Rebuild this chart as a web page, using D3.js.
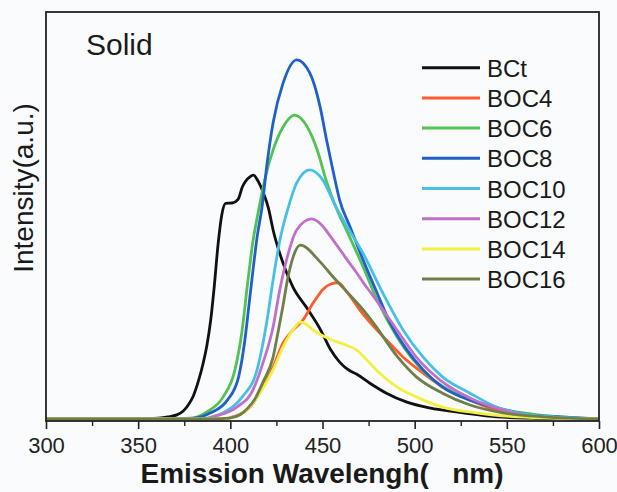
<!DOCTYPE html>
<html>
<head>
<meta charset="utf-8">
<script src="https://cdn.jsdelivr.net/npm/d3@7"></script>
<style>
  body { margin: 0; background: #fafbfd; }
  svg { display: block; font-family: "Liberation Sans", Arial, sans-serif; }
</style>
</head>
<body>
<svg id="chart" width="617" height="492"></svg>
<script>
// emission spectra, [wavelength nm, intensity a.u.]
const BCt = [[300,0.5],[351,0.5],[361,0.7],[366,1],[371,1.5],[374.3,2.4],[377,3.8],[379.8,6],[382.5,9.5],[385.2,14],[387.3,18.5],[389.3,24.5],[391.3,33],[393.3,43],[395.4,50.5],[397.4,53.2],[401,53.3],[404.2,54.2],[406.5,57.2],[410.6,59.7],[412.6,60.1],[414.7,58.9],[417.7,56],[420.7,52],[423.2,46.7],[428.6,38.6],[433.9,32.8],[441.6,27.6],[448.6,22.6],[454.2,17.6],[459.3,14.4],[464.4,12.4],[468.4,11.5],[475.5,9.3],[484.7,6.8],[495.8,4.6],[508,3.2],[526.3,2],[544.5,1],[562.8,0.7],[600,0.5]]
const BOC4 = [[300,0.5],[396.4,0.5],[401.5,1],[410.6,3.4],[417.7,8.3],[423.2,13.2],[428.6,19.1],[433.9,22.2],[439.4,24.7],[445,28.9],[450.5,32.3],[454.5,33.5],[458.5,33.8],[463.3,31.5],[470.5,27],[477.6,23.2],[484.7,19.8],[493.8,15.6],[504.6,11.7],[515.1,8.3],[530,5.1],[547.8,2.2],[566,1],[600,0.5]]
const BOC6 = [[300,0.5],[376.1,0.5],[387.3,2.2],[396.1,5.9],[402.5,12.5],[406.4,22.2],[409.2,33],[412.3,44],[415.1,51],[418.7,59],[423.2,66.3],[428.6,71.9],[434.9,74.8],[441.6,72],[447.1,66.3],[452.2,58.5],[457.9,51.6],[463.4,46.3],[472,37.7],[479.6,29.6],[490.5,20.5],[508,10.8],[526.3,5.9],[544.5,3.2],[563.8,1.7],[600,0.5]]
const BOC8 = [[300,0.5],[371,0.6],[379.8,0.7],[389.3,2],[398.4,5.1],[404.5,10.8],[407.9,19.8],[410.6,30.3],[414.7,45.5],[417.2,52.3],[419.7,62.1],[423.2,72.9],[428.6,82.6],[436,88.3],[443.1,85.1],[448.7,76.8],[452.2,68.7],[455.8,61],[459.3,54],[465,47.4],[472,39.4],[479.6,31.3],[486.7,24],[495.8,17.4],[504.6,12.5],[515.1,8.3],[530,5.1],[544.5,3.2],[562.8,1.5],[579,1],[600,0.5]]
const BOC10 = [[300,0.5],[383.2,0.5],[396.1,2],[406.5,5.9],[414.5,12.5],[419.7,24],[423.2,34.5],[426.8,44],[431.5,52.3],[436,58.2],[443.1,61.4],[450.2,58.9],[456.8,52.8],[463.4,47.5],[472,41],[482.7,31.3],[493.8,22.2],[504.6,15.6],[515.1,10.8],[530,6.8],[544.5,3.4],[562.8,1.5],[600,0.5]]
const BOC12 = [[300,0.5],[386.2,0.5],[390.3,1],[403.5,3.4],[412.3,7.6],[417.7,14.2],[423.2,23],[426.8,32],[430.9,40.1],[436,46.7],[444.1,49.4],[450.2,47.6],[454.2,45.2],[459.3,42],[463.4,39.4],[468.4,36.3],[472.5,33.6],[477.6,30.5],[482.6,27.3],[490.5,22.2],[500.9,15.6],[513.8,10],[530,5.6],[547.6,2.7],[565.8,1],[600,0.5]]
const BOC14 = [[300,0.5],[396.4,0.5],[399.4,0.7],[409,2.7],[416,6.8],[423.2,12.5],[428.6,18.1],[433.9,22.2],[438,24.2],[447.2,21.5],[454.2,20],[461.3,18.8],[468.4,17.4],[474.1,14.9],[481.2,11.6],[490.5,8.3],[500.9,5.9],[515.1,3.4],[533.4,2],[555.7,1],[600,0.5]]
const BOC16 = [[300,0.5],[391.3,0.5],[399.4,0.7],[405.5,1.6],[409.6,3.2],[413.6,5.6],[417.7,9.5],[423.2,15.6],[425.8,21.5],[428.5,28],[431,34.5],[434,40],[438,43],[448.7,38.9],[455.8,35.2],[463.4,31.5],[470.5,28],[477.6,24],[490.5,15.8],[500.9,10.8],[515.1,6.8],[530,3.9],[547.8,2],[569.9,1],[600,0.5]]

const names = ["BCt", "BOC4", "BOC6", "BOC8", "BOC10", "BOC12", "BOC14", "BOC16"]
const spectra = [BCt, BOC4, BOC6, BOC8, BOC10, BOC12, BOC14, BOC16]
const colors = ["#111111", "#ff5b30", "#52c252", "#2060c8", "#48c0e6", "#c070c8", "#f2f040", "#6e8048"]
const majorTicks = [300, 350, 400, 450, 500, 550, 600]
const minorTicks = [325, 375, 425, 475, 525, 575]

const svg = d3.select("#chart")
const plotL = 46, plotR = 599, plotT = 12, plotB = 421

const x = d3.scaleLinear().domain([300, 600]).range([plotL, plotR])
const y = d3.scaleLinear().domain([0, 100]).range([plotB, plotT])

const line = d3.line()
    .x(d => x(d[0]))
    .y(d => y(d[1]))
    .curve(d3.curveMonotoneX)

// curves
svg.append("g").selectAll("path")
    .data(spectra)
    .join("path")
    .attr("d", line)
    .attr("fill", "none")
    .attr("stroke", (d, i) => colors[i])
    .attr("stroke-width", 2.8)
    .attr("stroke-linejoin", "round")

// frame
svg.append("rect")
    .attr("x", plotL)
    .attr("y", plotT)
    .attr("width", plotR - plotL)
    .attr("height", plotB - plotT)
    .attr("fill", "none")
    .attr("stroke", "#222")
    .attr("stroke-width", 1.8)

// x axis, major + minor ticks
const xAxis = svg.append("g")
    .attr("transform", `translate(0,${plotB})`)
    .call(d3.axisBottom(x).tickValues(majorTicks).tickSize(8).tickPadding(8).tickFormat(d3.format("d")))
xAxis.select(".domain").remove()
xAxis.selectAll(".tick line").attr("stroke", "#222").attr("stroke-width", 1.6)
xAxis.selectAll(".tick text")
    .attr("font-size", 22)
    .attr("fill", "#222")
    .attr("font-family", "Liberation Sans, Arial, sans-serif")

const xMinor = svg.append("g")
    .attr("transform", `translate(0,${plotB})`)
    .call(d3.axisBottom(x).tickValues(minorTicks).tickSize(5).tickFormat(""))
xMinor.select(".domain").remove()
xMinor.selectAll(".tick line").attr("stroke", "#222").attr("stroke-width", 1.4)

// titles
svg.append("text")
    .attr("x", 322)
    .attr("y", 483)
    .attr("text-anchor", "middle")
    .attr("font-size", 28)
    .attr("font-weight", "bold")
    .attr("fill", "#1a1a1a")
    .text("Emission Wavelengh(\u00a0\u00a0\u00a0nm)")

svg.append("text")
    .attr("transform", "translate(33,188) rotate(-90)")
    .attr("text-anchor", "middle")
    .attr("font-size", 28)
    .attr("fill", "#1a1a1a")
    .text("Intensity(a.u.)")

svg.append("text")
    .attr("x", 86)
    .attr("y", 55)
    .attr("font-size", 30)
    .attr("fill", "#1a1a1a")
    .text("Solid")

// legend
const legend = svg.append("g").selectAll("g")
    .data(names)
    .join("g")
    .attr("transform", (d, i) => `translate(422,${67.7 + i * 30.2})`)
legend.append("line")
    .attr("x1", 0).attr("x2", 58)
    .attr("stroke", (d, i) => colors[i])
    .attr("stroke-width", 3)
legend.append("text")
    .attr("x", 65)
    .attr("y", 9)
    .attr("font-size", 24)
    .attr("fill", "#1a1a1a")
    .text(d => d)
</script>
</body>
</html>
